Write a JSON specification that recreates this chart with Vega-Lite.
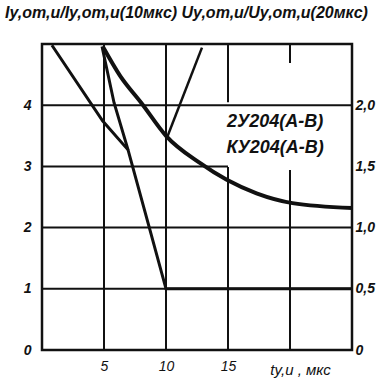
{
  "$schema": "https://vega.github.io/schema/vega-lite/v6.json",
  "width": 310,
  "height": 306,
  "autosize": {"type": "none"},
  "padding": {"left": 42, "top": 44, "right": 28, "bottom": 28},
  "background": "white",
  "config": {
    "view": {"stroke": "#111", "strokeWidth": 2.5},
    "font": "Liberation Sans"
  },
  "title": {
    "text": "Iу,от,и/Iу,от,и(10мкс)  Uу,от,и/Uу,от,и(20мкс)",
    "anchor": "start",
    "frame": "group",
    "dx": -37,
    "offset": 17,
    "fontSize": 16,
    "fontStyle": "italic",
    "fontWeight": "bold",
    "color": "#111"
  },
  "datasets": {
    "grid": [
      {"x": 5, "x2": 5, "y": 0, "y2": 5},
      {"x": 10, "x2": 10, "y": 0, "y2": 5},
      {"x": 15, "x2": 15, "y": 0, "y2": 2.99},
      {"x": 15, "x2": 15, "y": 4.05, "y2": 5},
      {"x": 20, "x2": 20, "y": 0, "y2": 2.94},
      {"x": 20, "x2": 20, "y": 4.69, "y2": 5},
      {"x": 0, "x2": 25, "y": 1, "y2": 1},
      {"x": 0, "x2": 25, "y": 2, "y2": 2},
      {"x": 0, "x2": 15, "y": 3, "y2": 3},
      {"x": 0, "x2": 25, "y": 4, "y2": 4}
    ],
    "iMain": [
      {"x": 0.8, "y": 4.98},
      {"x": 4.9, "y": 3.74},
      {"x": 6.94, "y": 3.27},
      {"x": 8.71, "y": 1.96},
      {"x": 10, "y": 1.0},
      {"x": 25, "y": 1.0}
    ],
    "iSteep": [
      {"x": 4.84, "y": 4.96},
      {"x": 5.81, "y": 4.04},
      {"x": 6.94, "y": 3.27}
    ],
    "uCurve": [
      {"x": 4.9, "y": 2.48},
      {"x": 6.3, "y": 2.24},
      {"x": 8.0, "y": 2.02},
      {"x": 10.0, "y": 1.75},
      {"x": 12.7, "y": 1.53},
      {"x": 14.9, "y": 1.39},
      {"x": 17.3, "y": 1.28},
      {"x": 20.2, "y": 1.2},
      {"x": 25, "y": 1.16}
    ],
    "uRise": [
      {"x": 10.1, "y": 1.74},
      {"x": 12.9, "y": 2.47}
    ],
    "labels": [
      {"x": 18.8, "y": 3.73, "text": "2У204(А-В)"},
      {"x": 18.8, "y": 3.3, "text": "КУ204(А-В)"}
    ]
  },
  "encoding": {
    "x": {
      "field": "x",
      "type": "quantitative",
      "scale": {"domain": [0, 25], "nice": false},
      "axis": {
        "values": [5, 10, 15],
        "ticks": false,
        "domain": false,
        "grid": false,
        "labelFontSize": 14,
        "labelFontStyle": "italic",
        "labelColor": "#111",
        "labelPadding": 9,
        "title": "tу,и , мкс",
        "titleFontSize": 15,
        "titleFontStyle": "italic",
        "titleFontWeight": "normal",
        "titleColor": "#111",
        "titleX": 258,
        "titleY": 24,
        "titleAlign": "center",
        "titleBaseline": "alphabetic"
      }
    }
  },
  "layer": [
    {
      "data": {"name": "grid"},
      "mark": {"type": "rule", "color": "#111", "strokeWidth": 2},
      "encoding": {
        "x2": {"field": "x2"},
        "y": {"field": "y", "type": "quantitative", "scale": {"domain": [0, 5], "nice": false}, "axis": null},
        "y2": {"field": "y2"}
      }
    },
    {
      "data": {"name": "iMain"},
      "mark": {"type": "line", "color": "#111", "strokeWidth": 3},
      "encoding": {
        "y": {
          "field": "y",
          "type": "quantitative",
          "scale": {"domain": [0, 5], "nice": false},
          "axis": {
            "orient": "left",
            "values": [0, 1, 2, 3, 4],
            "ticks": false,
            "domain": false,
            "grid": false,
            "labelFontSize": 14,
            "labelFontStyle": "italic",
            "labelFontWeight": "bold",
            "labelColor": "#111",
            "labelPadding": 11,
            "title": null
          }
        }
      }
    },
    {
      "data": {"name": "iSteep"},
      "mark": {"type": "line", "color": "#111", "strokeWidth": 3},
      "encoding": {
        "y": {"field": "y", "type": "quantitative", "scale": {"domain": [0, 5], "nice": false}, "axis": null}
      }
    },
    {
      "data": {"name": "labels"},
      "mark": {"type": "text", "fontSize": 18, "fontStyle": "italic", "fontWeight": "bold", "font": "Liberation Sans", "color": "#111", "align": "center", "baseline": "middle"},
      "encoding": {
        "y": {"field": "y", "type": "quantitative", "scale": {"domain": [0, 5], "nice": false}, "axis": null},
        "text": {"field": "text"}
      }
    },
    {
      "data": {"name": "uCurve"},
      "mark": {"type": "line", "color": "#111", "strokeWidth": 4, "interpolate": "monotone"},
      "encoding": {
        "y": {
          "field": "y",
          "type": "quantitative",
          "scale": {"domain": [0, 2.5], "nice": false},
          "axis": {
            "orient": "right",
            "values": [0, 0.5, 1, 1.5, 2],
            "labelExpr": "datum.value == 0 ? '0' : replace(format(datum.value, '.1f'), '.', ',')",
            "ticks": false,
            "domain": false,
            "grid": false,
            "labelFontSize": 14,
            "labelFontStyle": "italic",
            "labelFontWeight": "bold",
            "labelColor": "#111",
            "labelPadding": 3,
            "title": null
          }
        }
      }
    },
    {
      "data": {"name": "uRise"},
      "mark": {"type": "line", "color": "#111", "strokeWidth": 2.5},
      "encoding": {
        "y": {"field": "y", "type": "quantitative", "scale": {"domain": [0, 2.5], "nice": false}, "axis": null}
      }
    }
  ],
  "resolve": {"scale": {"y": "independent"}}
}
